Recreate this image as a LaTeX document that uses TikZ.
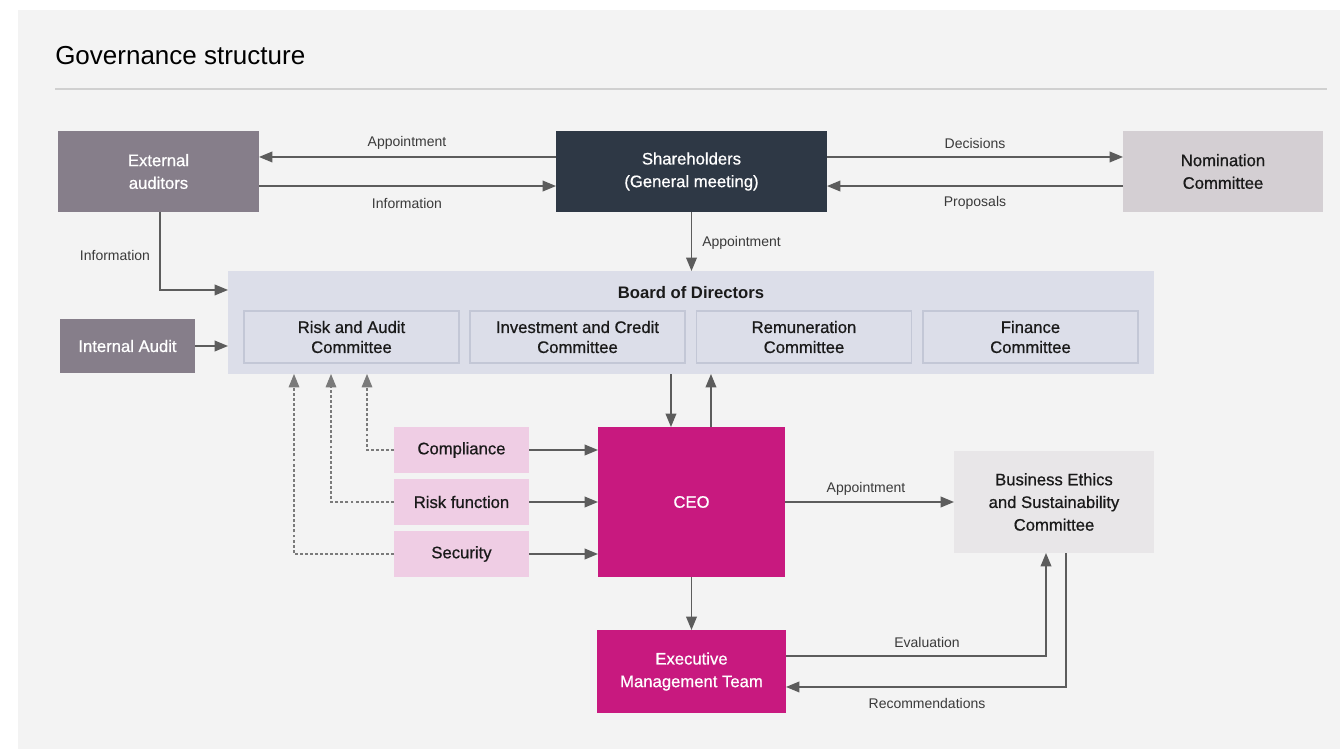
\documentclass[tikz,border=0pt]{standalone}
\usepackage{fontspec}
\setmainfont{Liberation Sans}
\newfontfamily\medfont[FakeBold=0.7]{Liberation Sans}
\usetikzlibrary{arrows.meta,positioning}
\definecolor{bgc}{HTML}{F3F3F3}
\definecolor{sepc}{HTML}{D0D0D0}
\definecolor{audc}{HTML}{867E8A}
\definecolor{shc}{HTML}{2E3845}
\definecolor{nomc}{HTML}{D4CFD3}
\definecolor{boardc}{HTML}{DCDEE9}
\definecolor{subc}{HTML}{C3C7D6}
\definecolor{pinkc}{HTML}{EFCDE4}
\definecolor{magc}{HTML}{C8197F}
\definecolor{ethc}{HTML}{E8E6E8}
\definecolor{arrc}{HTML}{5C5C5C}
\definecolor{dashc}{HTML}{7A7A7A}
\definecolor{txtc}{HTML}{1A1A1A}
\definecolor{lblc}{HTML}{3A3A3A}
\tikzset{
  boxbase/.style={rectangle, inner sep=0pt, outer sep=0pt, align=center, font=\medfont\fontsize{12.5}{17}\selectfont},
  darkbox/.style={boxbase, fill=#1, text=white},
  lightbox/.style={boxbase, fill=#1, text=txtc},
  subbox/.style={boxbase, fill=boardc, draw=subc, line width=1.4pt, text=txtc, minimum width=161.25pt, minimum height=39pt, font=\medfont\fontsize{12.5}{15}\selectfont},
  arr/.style={draw=arrc, line width=1.1pt, -{Triangle[length=10pt,width=8pt]}},
  dasharr/.style={draw=dashc, line width=0.8pt, dash pattern=on 2.2pt off 1.6pt, -{Triangle[length=10pt,width=8pt]}},
  lbl/.style={inner sep=0pt, text=lblc, font=\fontsize{10.5}{12}\selectfont},
}
\begin{document}
\begin{tikzpicture}[x=0.75pt,y=-0.75pt]
\useasboundingbox (0,0) rectangle (1340,749);
\fill[white] (0,0) rectangle (1340,749);
\fill[bgc] (18,10) rectangle (1340,749);
\node[anchor=base west, inner sep=0pt, text=black, font=\fontsize{19.5}{22}\selectfont] (title) at (55,65) {Governance structure};
\draw[sepc, line width=1.5pt] (55,89) -- (1327,89);

% top row
\node[darkbox=audc, minimum width=150.75pt, minimum height=60.75pt] (ea) at (158.5,171.5) {External\\auditors};
\node[darkbox=shc, minimum width=203.25pt, minimum height=60.75pt] (sh) at (691.5,171.5) {Shareholders\\(General meeting)};
\node[lightbox=nomc, minimum width=150pt, minimum height=60.75pt] (nom) at (1223,171.5) {Nomination\\Committee};

% board
\node[lightbox=boardc, minimum width=694.5pt, minimum height=77.25pt] (board) at (691,322.5) {};
\node[inner sep=0pt, text=txtc, font=\fontsize{12.5}{15}\bfseries\selectfont] (boardt) at (691,293) {Board of Directors};
\node[subbox] (rac) at (351.5,337) {Risk and Audit\\Committee};
\node[subbox] (icc) at (577.5,337) {Investment and Credit\\Committee};
\node[subbox] (rem) at (804,337) {Remuneration\\Committee};
\node[subbox] (fin) at (1030.5,337) {Finance\\Committee};

\node[darkbox=audc, minimum width=101.25pt, minimum height=40.5pt] (ia) at (127.5,346) {Internal Audit};

% functions
\node[lightbox=pinkc, minimum width=101.25pt, minimum height=34.5pt] (comp) at (461.5,450) {Compliance};
\node[lightbox=pinkc, minimum width=101.25pt, minimum height=34.5pt] (risk) at (461.5,502) {Risk function};
\node[lightbox=pinkc, minimum width=101.25pt, minimum height=34.5pt] (sec) at (461.5,554) {Security};

\node[darkbox=magc, minimum width=140.25pt, minimum height=112.5pt] (ceo) at (691.5,502) {CEO};
\node[lightbox=ethc, minimum width=150pt, minimum height=76.5pt] (eth) at (1054,502) {Business Ethics\\and Sustainability\\Committee};
\node[darkbox=magc, minimum width=141.75pt, minimum height=62.25pt] (emt) at (691.5,671.5) {Executive\\Management Team};

% top arrows
\draw[arr] ([yshift=10.9pt]sh.west) -- ([yshift=10.9pt]ea.east);
\draw[arr] ([yshift=-10.9pt]ea.east) -- ([yshift=-10.9pt]sh.west);
\draw[arr] ([yshift=10.9pt]sh.east) -- ([yshift=10.9pt]nom.west);
\draw[arr] ([yshift=-10.9pt]nom.west) -- ([yshift=-10.9pt]sh.east);
\node[lbl] (l1) at (407,143) {Appointment};
\node[lbl] (l2) at (407,203) {Information};
\node[lbl] (l3) at (975,143) {Decisions};
\node[lbl] (l4) at (975,203) {Proposals};

\draw[arr] (sh.south) -- (sh.south |- board.north);
\node[lbl, anchor=west] (l5) at (702,243) {Appointment};

\coordinate (eab) at ([xshift=1.1pt]ea.south);
\draw[arr] (eab) |- ([yshift=24.4pt]board.west);
\node[lbl] (l6) at (115,255) {Information};

\draw[arr] (ia.east) -- (ia.east -| board.west);

% board <-> ceo
\coordinate (c1) at ([xshift=-15.4pt]ceo.north);
\coordinate (c2) at ([xshift=14.6pt]ceo.north);
\draw[arr] (c1 |- board.south) -- (c1);
\draw[arr] (c2) -- (c2 |- board.south);

% functions -> ceo
\draw[arr] (comp.east) -- (comp.east -| ceo.west);
\draw[arr] (risk.east) -- (risk.east -| ceo.west);
\draw[arr] (sec.east) -- (sec.east -| ceo.west);

% dashed to board
\coordinate (d1) at (367,0);
\coordinate (d2) at (331,0);
\coordinate (d3) at (294,0);
\draw[dasharr] (comp.west) -| (d1 |- board.south);
\draw[dasharr] (risk.west) -| (d2 |- board.south);
\draw[dasharr] (sec.west) -| (d3 |- board.south);

% ceo -> ethics, emt
\draw[arr] (ceo.east) -- (eth.west);
\node[lbl] (l7) at (866,489) {Appointment};
\draw[arr] (ceo.south) -- (emt.north);

\coordinate (e1) at ([yshift=11.6pt]emt.east);
\coordinate (e2) at ([xshift=-6pt]eth.south);
\coordinate (e3) at ([xshift=9pt]eth.south);
\coordinate (e4) at ([yshift=-11.6pt]emt.east);
\draw[arr] (e1) -| (e2);
\draw[arr] (e3) |- (e4);
\node[lbl] (l8) at (927,642) {Evaluation};
\node[lbl] (l9) at (927,703) {Recommendations};
\end{tikzpicture}
\end{document}
